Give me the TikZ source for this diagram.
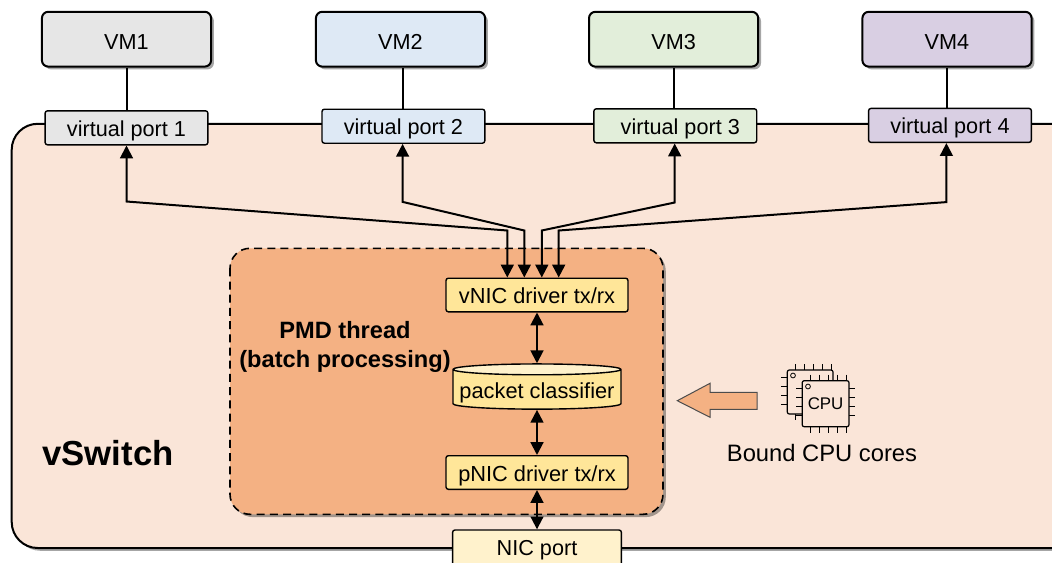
\documentclass[tikz,border=0pt]{standalone}
\usepackage{fontspec}
\setmainfont{Liberation Sans}
\usetikzlibrary{arrows.meta,shadows,shapes.geometric}
\definecolor{VMONE}{HTML}{E6E6E6}
\definecolor{VMTWO}{HTML}{DEE9F5}
\definecolor{VMTHREE}{HTML}{E2EEDA}
\definecolor{VMFOUR}{HTML}{D9CFE3}
\definecolor{SWITCHFILL}{HTML}{FAE5D8}
\definecolor{THREADFILL}{HTML}{F4B183}
\definecolor{DRIVERFILL}{HTML}{FFE699}
\definecolor{NICFILL}{HTML}{FFF2CC}
\tikzset{
>={Triangle[length=3.2mm,width=3.2mm]},
SOFTSHADOW/.style={drop shadow={shadow xshift=0.7mm,shadow yshift=-0.7mm,fill=black,opacity=0.35}},
VMBOX/.style ={draw=black,rounded corners=1.6mm,line width=0.5mm,minimum width=42.3mm,minimum height=13.7mm,SOFTSHADOW,fill=#1,text height=15pt,text depth=0pt,font=\fontsize{15.4}{18}\selectfont},
PORTBOX/.style ={draw=black,rounded corners=0.6mm,line width=0.35mm,minimum width=40.7mm,minimum height=8.5mm,fill=#1,text height=12pt,text depth=0pt,font=\fontsize{15.4}{18}\selectfont},
DRIVERBOX/.style ={draw=black,rounded corners=0.6mm,line width=0.35mm,minimum width=45.5mm,minimum height=8.4mm,fill=DRIVERFILL,text height=12.4pt,text depth=0pt,font=\fontsize{15.5}{18}\selectfont},
LINK/.style ={draw=black,line width=0.5mm},
CHIP/.style ={draw=black,line width=0.3mm,rounded corners=0.5mm},
PIN/.style ={draw=black,line width=0.25mm},
}

\begin{document}
\begin{tikzpicture}
[x=0.25mm, y=-0.25mm]
	\useasboundingbox (0,0) rectangle (1052,563);
	\clip (0,0) rectangle (1052,563);
	\path[draw=black,line width=0.5mm,rounded corners=6.5mm,fill=SWITCHFILL,SOFTSHADOW] (11.7,123.8) rectangle (1080,548);
	\path[draw=black,line width=0.4mm,dashed,dash pattern=on 2mm off 1.3mm,rounded corners=5mm,fill=THREADFILL,SOFTSHADOW] (230,248.3) rectangle (663,514.3);

	\node[VMBOX=VMONE] (vm1) at (126.5,39.2) {VM1};
	\node[VMBOX=VMTWO] (vm2) at (400.5,39.2) {VM2};
	\node[VMBOX=VMTHREE] (vm3) at (673.6,39.2) {VM3};
	\node[VMBOX=VMFOUR] (vm4) at (947,39.2) {VM4};

	\node[PORTBOX=VMONE] (port1) at (126.5,127.8) {virtual port 1};
	\node[PORTBOX=VMTWO] (port2) at (403.4,126.2) {virtual port 2};
	\node[PORTBOX=VMTHREE] (port3) at (675.3,125.8) {\hspace*{2.5mm}virtual port 3};
	\node[PORTBOX=VMFOUR] (port4) at (950,125.4) {virtual port 4};

	\node[DRIVERBOX] (vnic) at (537,295) {vNIC driver tx/rx};
	\node[DRIVERBOX] (pnic) at (537,472.5) {pNIC driver tx/rx};
	\node[draw=black,line width=0.35mm,cylinder,shape border rotate=90,aspect=0.07,minimum width=42mm,minimum height=11.3mm,inner sep=0pt,cylinder uses custom fill,cylinder end fill=NICFILL,cylinder body fill=DRIVERFILL,text height=13pt,text depth=0pt,font=\fontsize{15.5}{18}\selectfont] (classifier) at (537,389.6) {packet classifier};
	\node[draw=black,line width=0.35mm,rounded corners=0.6mm,minimum width=42.2mm,minimum height=10mm,fill=NICFILL,text height=8.5pt,text depth=0pt,font=\fontsize{15.4}{18}\selectfont] (nicport) at (537,550) {NIC port};

	\node[align=center,font=\bfseries\fontsize{16.8}{20.6}\selectfont] (pmdlabel) at (345,347) {PMD thread\\(batch processing)};
	\node[font=\bfseries\fontsize{24.7}{28}\selectfont] (vswitchlabel) at (108,453) {vSwitch};
	\node[font=\fontsize{16.9}{20}\selectfont] (boundlabel) at (822,453) {Bound CPU cores};

	\draw[LINK] (vm1.south) -- (vm1.south |- port1.north);
	\draw[LINK] (port2.north) -- (port2.north |- vm2.south);
	\draw[LINK] (vm3.south) -- (vm3.south |- port3.north);
	\draw[LINK] ([xshift=-0.1mm]vm4.south) -- ([xshift=-0.1mm]vm4.south |- port4.north);

	\draw[LINK,<->] (port1.south) -- ++(0,56) -- ([shift={(-29.7,-47)}]vnic.north) -- ([shift={(-29.7,0)}]vnic.north);
	\draw[LINK,<->] ([xshift=-0.2mm]port2.south) -- ++(0,58) -- ([shift={(-12.7,-47)}]vnic.north) -- ([shift={(-12.7,0)}]vnic.north);
	\draw[LINK,<->] ([xshift=-0.15mm]port3.south) -- ++(0,59) -- ([shift={(4.8,-47)}]vnic.north) -- ([shift={(4.8,0)}]vnic.north);
	\draw[LINK,<->] ([xshift=-0.9mm]port4.south) -- ++(0,59) -- ([shift={(21.7,-47)}]vnic.north) -- ([shift={(21.7,0)}]vnic.north);

	\draw[LINK,<->] (vnic.south) -- (classifier.top);
	\draw[LINK,<->] (classifier.bottom) -- (pnic.north);
	\draw[LINK,<->] (pnic.south) -- (nicport.north);

	\path[draw=black!70,line width=0.25mm,fill=THREADFILL] (677.3,400.7) -- (710,383.3) -- (710,392.3) -- (757,392.3) -- (757,409.3) -- (710,409.3) -- (710,417.3) -- cycle;

	\foreach \pos in {795,804,813,822,831}{
		\draw[PIN] (\pos,364) -- (\pos,370);
	}
	\foreach \pos in {377,386,395,404}{
		\draw[PIN] (781,\pos) -- (787.3,\pos);
	}
	\draw[PIN] (795,414) -- (795,420);
	\draw[CHIP,fill=SWITCHFILL] (787.3,370) rectangle (833,414);
	\draw[line width=0.2mm] (793,375.5) circle (2.4);
	\foreach \pos in {810,819,828,837,846}{
		\draw[PIN] (\pos,374.5) -- (\pos,380.7);
		\draw[PIN] (\pos,426.7) -- (\pos,432.5);
	}
	\foreach \pos in {388,397,406,415}{
		\draw[PIN] (796,\pos) -- (802.3,\pos);
		\draw[PIN] (849,\pos) -- (855,\pos);
	}
	\node[CHIP,fill=SWITCHFILL,minimum width=11.7mm,minimum height=11.5mm,inner sep=0pt,font=\fontsize{12}{14}\selectfont,text depth=0pt] (cpu) at (825.6,403.7) {CPU};
	\draw[line width=0.2mm] (808,386.5) circle (2.4);
\end{tikzpicture}
\end{document}
